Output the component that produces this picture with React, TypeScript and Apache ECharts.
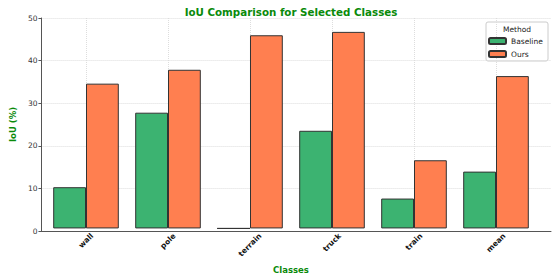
import React, { useEffect, useRef } from "react";
import * as echarts from "echarts";

const categories = ["wall", "pole", "terrain", "truck", "train", "mean"];
const baseline = [9.8, 27.5, 0, 23.2, 7.1, 13.5];
const ours = [34.4, 37.7, 45.9, 46.7, 16.2, 36.2];
const yTicks = [0, 10, 20, 30, 40, 50];

const FONT = "DejaVu Sans";
const GREEN = "#0a8a0a";
const LABEL_SIZE = 7.5;
const LABEL_LH = 9;

function measure(text: string): number {
  const c = document.createElement("canvas").getContext("2d");
  if (!c) return text.length * 5;
  c.font = `bold ${LABEL_SIZE}px "${FONT}"`;
  return c.measureText(text).width;
}

export default function App() {
  const ref = useRef<HTMLDivElement>(null);
  useEffect(() => {
    const chart = echarts.init(ref.current!, null, { renderer: "svg" });
    const rich: Record<string, any> = {};
    categories.forEach((c, i) => {
      const L = measure(c);
      const p = 0.5 * (L + LABEL_LH);
      rich["c" + i] = {
        fontFamily: FONT,
        fontSize: LABEL_SIZE,
        fontWeight: "bold",
        color: "#111",
        lineHeight: LABEL_LH,
        padding: [p, p, 0, 0],
      };
    });
    chart.setOption({
      animation: false,
      textStyle: { fontFamily: FONT },
      graphic: [
        {
          type: "text",
          x: 291,
          y: 11.5,
          style: {
            text: "IoU Comparison for Selected Classes",
            fontFamily: FONT,
            fontSize: 10.3,
            fontWeight: "bold",
            fill: GREEN,
            align: "center",
            verticalAlign: "middle",
          },
        },
        {
          type: "rect",
          shape: { x: 486, y: 22, width: 62, height: 39, r: 2 },
          style: { fill: "rgba(255,255,255,0.8)", stroke: "#ccc", lineWidth: 1 },
          z: -1,
        },
        {
          type: "text",
          x: 517,
          y: 29,
          style: {
            text: "Method",
            fontFamily: FONT,
            fontSize: 7.5,
            fill: "#222",
            align: "center",
            verticalAlign: "middle",
          },
        },
      ],
      grid: [
        { left: 31, right: 7, top: 18, bottom: 48 },
        { left: 86, width: 410, top: 18, bottom: 48 },
      ],
      xAxis: [
        {
          type: "value",
          gridIndex: 0,
          min: 0,
          max: 1,
          axisLine: { show: true, onZero: false, lineStyle: { color: "#555", width: 1 } },
          axisTick: { show: false },
          axisLabel: { show: false },
          splitLine: { show: false },
        },
        {
          type: "category",
          gridIndex: 1,
          data: categories,
          boundaryGap: false,
          name: "Classes",
          nameLocation: "middle",
          nameGap: 31,
          nameTextStyle: { fontFamily: FONT, fontSize: 8.5, fontWeight: "bold", color: GREEN },
          axisLine: { show: false },
          axisTick: { show: false },
          axisLabel: {
            rotate: 45,
            align: "center",
            verticalAlign: "middle",
            margin: 3,
            formatter: (v: string) => `{c${categories.indexOf(v)}|${v}}`,
            rich,
          },
          splitLine: { show: true, lineStyle: { color: "#ddd", type: "dotted", width: 1 } },
        },
      ],
      yAxis: [
        {
          type: "value",
          gridIndex: 0,
          min: yTicks[0],
          max: yTicks[yTicks.length - 1],
          interval: 10,
          name: "IoU (%)",
          nameLocation: "middle",
          nameGap: 18,
          nameTextStyle: { fontFamily: FONT, fontSize: 8.5, fontWeight: "bold", color: GREEN },
          axisLine: { show: true, lineStyle: { color: "#555", width: 1 } },
          axisTick: { show: true, length: 3, lineStyle: { color: "#555" } },
          axisLabel: { fontFamily: FONT, fontSize: 7.5, color: "#333", margin: 4 },
          splitLine: { show: true, lineStyle: { color: "#ddd", type: "dotted", width: 1 } },
        },
        {
          type: "value",
          gridIndex: 1,
          min: yTicks[0],
          max: yTicks[yTicks.length - 1],
          interval: 10,
          show: false,
        },
      ],
      legend: {
        orient: "vertical",
        left: 486,
        top: 35,
        itemWidth: 17,
        itemHeight: 6,
        itemGap: 5,
        padding: 2,
        textStyle: { fontFamily: FONT, fontSize: 7.5, color: "#222" },
        data: ["Baseline", "Ours"],
      },
      series: [
        {
          name: "Baseline",
          type: "bar",
          xAxisIndex: 1,
          yAxisIndex: 1,
          data: baseline,
          barWidth: "40%",
          barGap: "0%",
          itemStyle: { color: "#3CB371", borderColor: "#333", borderWidth: 1 },
        },
        {
          name: "Ours",
          type: "bar",
          xAxisIndex: 1,
          yAxisIndex: 1,
          data: ours,
          barWidth: "40%",
          barGap: "0%",
          itemStyle: { color: "#FF7F50", borderColor: "#333", borderWidth: 1 },
        },
      ],
    });
    return () => chart.dispose();
  }, []);
  return <div ref={ref} style={{ width: 558, height: 279, position: "absolute", left: 0, top: 0 }} />;
}
